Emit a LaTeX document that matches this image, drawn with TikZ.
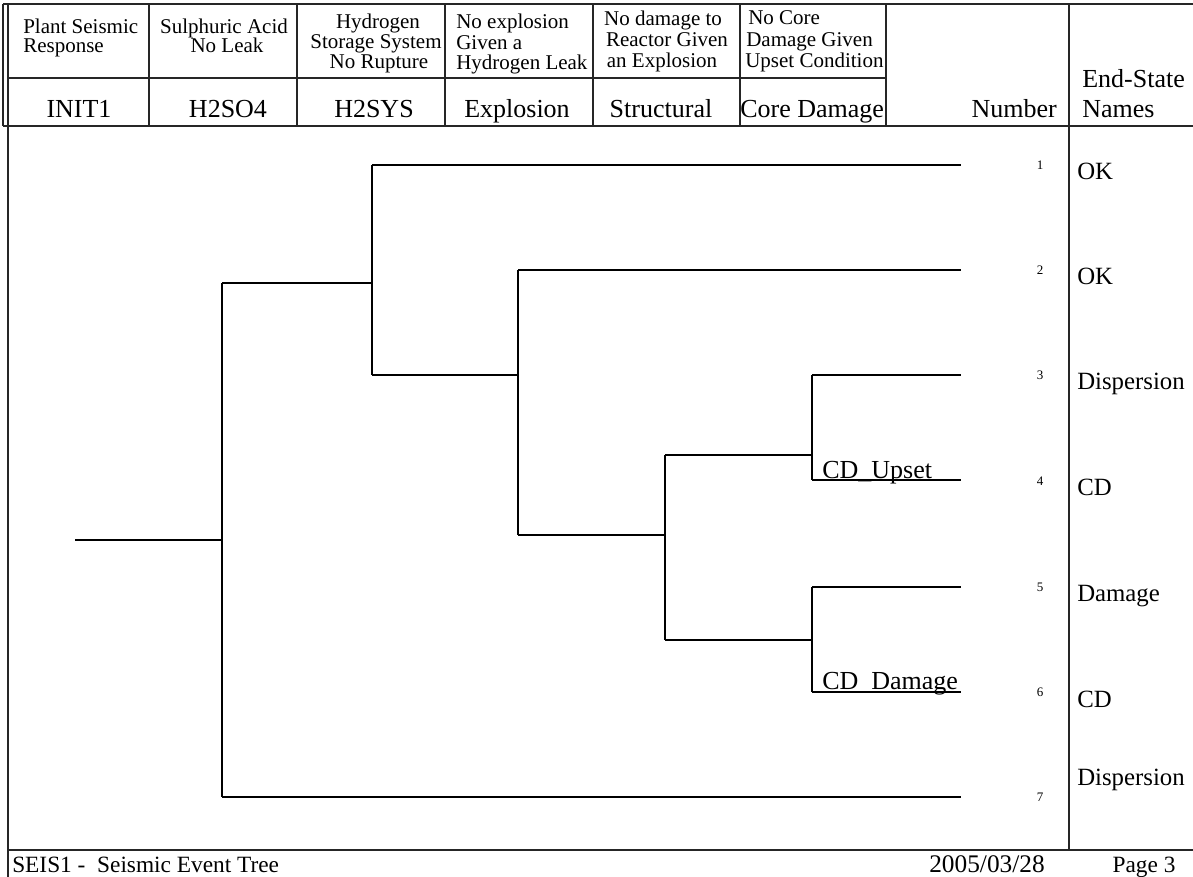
\documentclass[tikz,border=0pt]{standalone}
\usepackage{fontspec}
\setmainfont{Liberation Serif}
\begin{document}
\begin{tikzpicture}[x=0.75pt,y=-0.75pt,
  hdr/.style={font=\fontsize{15.75}{15}\selectfont, inner sep=0pt},
  code/.style={font=\fontsize{19.5}{20}\selectfont, inner sep=0pt},
  num/.style={font=\fontsize{9.75}{10}\selectfont, inner sep=0pt},
  endst/.style={font=\fontsize{18.6}{20}\selectfont, inner sep=0pt, anchor=base west},
  foot/.style={font=\fontsize{17.5}{18}\selectfont, inner sep=0pt},
  datefont/.style={font=\fontsize{19}{20}\selectfont, inner sep=0pt},
  branch/.style={line width=1.1pt},
  frame/.style={line width=1pt, draw=black!85}]
\path[use as bounding box] (0,0) rectangle (1193,877);
% ---------- frame ----------
\draw[frame] (3,4) -- (1193,4);
\draw[frame] (3,4) -- (3,126);
\draw[frame] (8,4) -- (8,877);
\draw[frame] (8,78) -- (886,78);
\draw[frame] (3,126) -- (1193,126);
\foreach \cx in {149,297,445,593,740,886} \draw[frame] (\cx,4) -- (\cx,126);
\draw[frame] (1069,4) -- (1069,850);
\draw[frame] (8,850) -- (1193,850);
% ---------- header row 1 ----------
\node[hdr, anchor=base west] (h1a) at (23,34) {Plant Seismic};
\node[hdr, anchor=base west] (h1b) at (23,53) {Response};
\node[hdr, anchor=base] (h2a) at (224,34) {Sulphuric Acid};
\node[hdr, anchor=base] (h2b) at (227,53) {No Leak};
\node[hdr, anchor=base] (h3a) at (378,29) {Hydrogen};
\node[hdr, anchor=base] (h3b) at (376,49) {Storage System};
\node[hdr, anchor=base] (h3c) at (379,69) {No Rupture};
\node[hdr, anchor=base west] (h4a) at (456,29) {No explosion};
\node[hdr, anchor=base west] (h4b) at (456,50) {Given a};
\node[hdr, anchor=base west] (h4c) at (456,70) {Hydrogen Leak};
\node[hdr, anchor=base] (h5a) at (663,26) {No damage to};
\node[hdr, anchor=base] (h5b) at (667,47) {Reactor Given};
\node[hdr, anchor=base] (h5c) at (662,68) {an Explosion};
\node[hdr, anchor=base west] (h6a) at (748,25) {No Core};
\node[hdr, anchor=base west] (h6b) at (746,47) {Damage Given};
\node[hdr, anchor=base west] (h6c) at (745,68) {Upset Condition};
% ---------- header row 2 ----------
\node[code, anchor=base] (c1) at (79,118) {INIT1};
\node[code, anchor=base] (c2) at (228,118) {H2SO4};
\node[code, anchor=base] (c3) at (374,118) {H2SYS};
\node[code, anchor=base] (c4) at (517,118) {Explosion};
\node[code, anchor=base] (c5) at (661,118) {Structural};
\node[code, anchor=base west] (c6) at (740,118) {Core Damage};
\node[code, anchor=base east] (c7) at (1057,118) {Number};
\node[code, anchor=base west] (c8a) at (1082,88) {End-State};
\node[code, anchor=base west] (c8b) at (1082,118) {Names};
% ---------- tree ----------
\coordinate (s0) at (75,540);
\coordinate (a) at (222,540);
\coordinate (at) at (222,283);
\coordinate (ab) at (222,797);
\coordinate (b) at (372,283);
\coordinate (bt) at (372,165);
\coordinate (bb) at (372,375);
\coordinate (c) at (518,375);
\coordinate (ct) at (518,270);
\coordinate (cb) at (518,535);
\coordinate (d) at (665,535);
\coordinate (dt) at (665,455);
\coordinate (db) at (665,640);
\coordinate (e) at (812,455);
\coordinate (et) at (812,375);
\coordinate (eb) at (812,480);
\coordinate (f) at (812,640);
\coordinate (ft) at (812,587);
\coordinate (fb) at (812,692);
\coordinate (e1) at (961,165);
\coordinate (e2) at (961,270);
\coordinate (e3) at (961,375);
\coordinate (e4) at (961,480);
\coordinate (e5) at (961,587);
\coordinate (e6) at (961,692);
\coordinate (e7) at (961,797);
\draw[branch] (s0) -- (a);
\draw[branch] (at) -- (ab);
\draw[branch] (at) -- (b);
\draw[branch] (bt) -- (bb);
\draw[branch] (bt) -- (e1);
\draw[branch] (bb) -- (c);
\draw[branch] (ct) -- (cb);
\draw[branch] (ct) -- (e2);
\draw[branch] (cb) -- (d);
\draw[branch] (dt) -- (db);
\draw[branch] (dt) -- (e);
\draw[branch] (et) -- (eb);
\draw[branch] (et) -- (e3);
\draw[branch] (eb) -- (e4);
\draw[branch] (db) -- (f);
\draw[branch] (ft) -- (fb);
\draw[branch] (ft) -- (e5);
\draw[branch] (fb) -- (e6);
\draw[branch] (ab) -- (e7);
\node[code, anchor=base west] (lu) at (822,478) {CD\_Upset};
\node[code, anchor=base west] (ld) at (822,689) {CD\_Damage};
% ---------- numbers ----------
\node[num] (n1) at (1040,165) {1};
\node[num] (n2) at (1040,270) {2};
\node[num] (n3) at (1040,375) {3};
\node[num] (n4) at (1040,481) {4};
\node[num] (n5) at (1040,587) {5};
\node[num] (n6) at (1040,692) {6};
\node[num] (n7) at (1040,797) {7};
% ---------- end states ----------
\node[endst] (s1) at (1077,180) {OK};
\node[endst] (s2) at (1077,285) {OK};
\node[endst] (s3) at (1077,390) {Dispersion};
\node[endst] (s4) at (1077,495) {CD};
\node[endst] (s5) at (1077,601) {Damage};
\node[endst] (s6) at (1077,707) {CD};
\node[endst] (s7) at (1077,785) {Dispersion};
% ---------- footer ----------
\node[foot, anchor=base west] (ft1) at (12,872) {SEIS1 -\ \ Seismic Event Tree};
\node[datefont, anchor=base] (ft2) at (987,872) {2005/03/28};
\node[foot, anchor=base] (ft3) at (1144,872) {Page 3};
\end{tikzpicture}
\end{document}
